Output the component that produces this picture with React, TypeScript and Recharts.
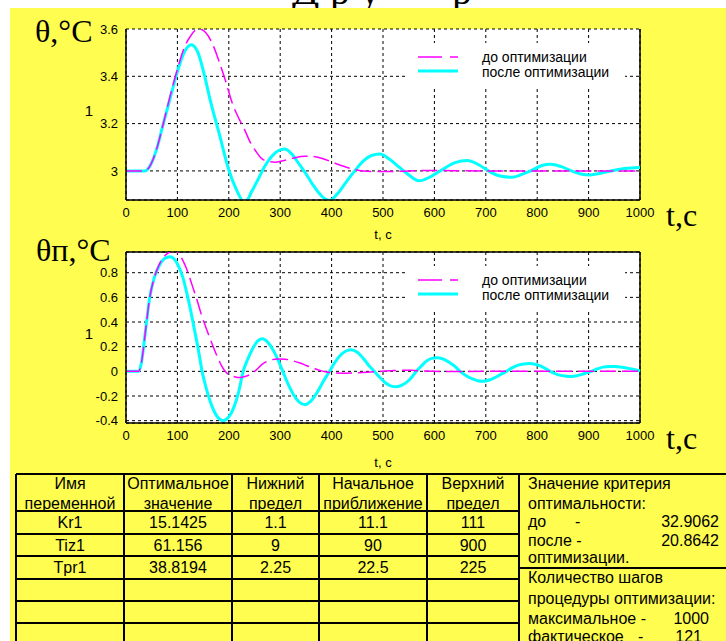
import React from 'react';
import { LineChart, Line, XAxis, YAxis, CartesianGrid, Legend, ReferenceLine } from 'recharts';

// ---------- data ----------
const timeTicks = [0, 100, 200, 300, 400, 500, 600, 700, 800, 900, 1000];
const thetaTicks = [3, 3.2, 3.4, 3.6];
const thetaPTicks = [-0.4, -0.2, 0, 0.2, 0.4, 0.6, 0.8];
const thetaDomain = [2.877, 3.6];
const thetaPDomain = [-0.419, 0.968];
const seriesNames = ['до оптимизации', 'после оптимизации'];

// θ, before optimisation
const thetaBeforeT = [0, 36, 45, 52, 62, 72, 85, 100, 113, 124, 135, 143, 155, 169, 180, 192, 208, 220, 230, 241, 253, 263, 276, 290, 305, 325, 348, 368, 385, 400, 420, 440, 461, 490, 530, 580, 640, 700, 1000];
const thetaBeforeV = [3, 3, 3.015, 3.045, 3.11, 3.195, 3.31, 3.43, 3.52, 3.565, 3.595, 3.6, 3.585, 3.533, 3.47, 3.392, 3.279, 3.22, 3.178, 3.124, 3.082, 3.054, 3.04, 3.037, 3.043, 3.054, 3.062, 3.06, 3.05, 3.038, 3.022, 3.008, 3.0, 2.997, 2.998, 3.002, 3.001, 3.0, 3.0];
// θ, after optimisation
const thetaAfterT = [0, 36, 45, 52, 62, 72, 85, 100, 113, 127, 140, 152, 163, 182, 200, 215, 231, 245, 256, 270, 282, 296, 309, 323, 338, 351, 364, 380, 396, 412, 429, 445, 461, 478, 494, 512, 532, 549, 570, 592, 615, 640, 664, 687, 709, 730, 750, 770, 790, 808, 826, 847, 867, 885, 903, 923, 943, 970, 1000];
const thetaAfterV = [3, 3, 3.015, 3.045, 3.11, 3.195, 3.3, 3.42, 3.5, 3.533, 3.5, 3.41, 3.307, 3.152, 3.004, 2.92, 2.865, 2.915, 2.96, 3.02, 3.058, 3.085, 3.093, 3.07, 3.025, 2.985, 2.94, 2.895, 2.875, 2.905, 2.955, 3.0, 3.04, 3.065, 3.071, 3.05, 3.015, 2.985, 2.958, 2.975, 3.005, 3.035, 3.044, 3.025, 2.995, 2.977, 2.973, 2.985, 3.003, 3.022, 3.028, 3.018, 3.0, 2.987, 2.983, 2.99, 3.0, 3.01, 3.014];

// θп, before optimisation
const thetaPBeforeT = [0, 25, 30, 38, 46, 55, 65, 75, 84, 92, 100, 108, 117, 127, 137, 146, 156, 166, 176, 186, 195, 205, 214, 222, 231, 241, 253, 266, 280, 295, 310, 325, 340, 352, 364, 377, 390, 405, 422, 440, 461, 485, 513, 535, 555, 580, 620, 700, 1000];
const thetaPBeforeV = [0, 0, 0.07, 0.33, 0.594, 0.76, 0.87, 0.935, 0.965, 0.98, 0.965, 0.92, 0.84, 0.72, 0.594, 0.47, 0.35, 0.24, 0.135, 0.045, -0.01, -0.035, -0.047, -0.05, -0.042, -0.027, 0.01, 0.06, 0.09, 0.1, 0.098, 0.085, 0.065, 0.045, 0.027, 0.008, -0.006, -0.013, -0.015, -0.013, -0.009, -0.003, 0.004, 0.009, 0.008, 0.003, -0.001, 0, 0];
// θп, after optimisation
const thetaPAfterT = [0, 25, 30, 38, 46, 55, 65, 75, 85, 93, 101, 110, 118, 126, 134, 141, 148, 157, 167, 178, 189, 200, 210, 219, 228, 237, 247, 256, 265, 276, 288, 296, 305, 315, 326, 337, 348, 360, 372, 384, 396, 406, 417, 428, 438, 450, 461, 472, 483, 494, 505, 516, 526, 538, 551, 565, 575, 585, 595, 605, 617, 630, 640, 650, 662, 673, 684, 695, 707, 718, 729, 740, 752, 763, 774, 785, 796, 806, 815, 825, 836, 846, 857, 867, 877, 887, 896, 905, 917, 928, 940, 952, 965, 980, 1000];
const thetaPAfterV = [0, 0, 0.07, 0.33, 0.594, 0.76, 0.86, 0.915, 0.93, 0.915, 0.864, 0.77, 0.64, 0.49, 0.32, 0.17, 0.0, -0.15, -0.28, -0.37, -0.4, -0.37, -0.29, -0.17, 0.0, 0.1, 0.19, 0.245, 0.265, 0.235, 0.16, 0.09, 0.0, -0.1, -0.19, -0.25, -0.27, -0.24, -0.17, -0.08, 0.0, 0.07, 0.13, 0.165, 0.176, 0.155, 0.108, 0.05, 0.0, -0.05, -0.095, -0.12, -0.125, -0.11, -0.07, 0.0, 0.045, 0.085, 0.105, 0.11, 0.1, 0.07, 0.04, 0.0, -0.035, -0.06, -0.076, -0.08, -0.07, -0.05, -0.025, 0.0, 0.03, 0.05, 0.06, 0.063, 0.058, 0.045, 0.025, 0.0, -0.02, -0.033, -0.04, -0.041, -0.036, -0.025, -0.012, 0.0, 0.02, 0.034, 0.04, 0.04, 0.033, 0.022, 0.005];

// table
const tableHeaders = [['Имя', 'переменной'], ['Оптимальное', 'значение'], ['Нижний', 'предел'], ['Начальное', 'приближение'], ['Верхний', 'предел']];
const varNames = ['Kr1', 'Tiz1', 'Tpr1'];
const optimalValues = ['15.1425', '61.156', '38.8194'];
const lowerLimits = ['1.1', '9', '2.25'];
const initialValues = ['11.1', '90', '22.5'];
const upperLimits = ['111', '900', '225'];
const criterionBefore = '32.9062';
const criterionAfter = '20.8642';
const stepsMax = '1000';
const stepsActual = '121';

// ---------- styles ----------
const MAG = '#ff00ff';
const CYAN = '#00ffff';
const YELLOW = '#fffd50';
const SANS = "'Liberation Sans', Arial, sans-serif";
const SERIF = "'Liberation Serif', 'Times New Roman', serif";

const zip = (ts: number[], vs: number[]) => ts.map((t, i) => ({ t, v: vs[i] }));

const LegendBox = () => (
  <svg width={220} height={44} style={{ display: 'block', background: '#fff' }}>
    <line x1={13} x2={53} y1={14} y2={14} stroke={MAG} strokeWidth={1.5} strokeDasharray="24 8" />
    <text x={77} y={14} dominantBaseline="central" fontFamily={SANS} fontSize={14} fill="#000">{seriesNames[0]}</text>
    <line x1={13} x2={53} y1={28} y2={28} stroke={CYAN} strokeWidth={3} />
    <text x={77} y={29} dominantBaseline="central" fontFamily={SANS} fontSize={14} fill="#000">{seriesNames[1]}</text>
  </svg>
);

type PlotProps = {
  height: number;
  marginBottom: number;
  domain: number[];
  yTicks: number[];
  before: { t: number; v: number }[];
  after: { t: number; v: number }[];
  topSolid: boolean;
};

const Plot = ({ height, marginBottom, domain, yTicks, before, after, topSolid }: PlotProps) => (
  <LineChart width={726} height={height} margin={{ top: 29, right: 86, bottom: marginBottom, left: 0 }}>
    <CartesianGrid fill="#fff" stroke="#000" strokeDasharray="3 3" strokeWidth={1} />
    <XAxis
      type="number"
      dataKey="t"
      domain={[0, 1000]}
      ticks={timeTicks}
      interval={0}
      height={30}
      tickLine={false}
      axisLine={{ stroke: '#000', strokeWidth: 1.5 }}
      tick={{ fill: '#000', fontSize: 13, fontFamily: SANS }}
      allowDuplicatedCategory={false}
    />
    <YAxis
      type="number"
      domain={domain}
      ticks={yTicks}
      interval={0}
      width={126}
      allowDataOverflow
      tickLine={false}
      axisLine={{ stroke: '#000', strokeWidth: 1.5 }}
      tick={{ fill: '#000', fontSize: 13, fontFamily: SANS }}
      tickFormatter={(v: number) => String(v)}
    />
    <ReferenceLine x={1000} stroke="#000" strokeWidth={1.5} />
    {topSolid && <ReferenceLine y={domain[1]} stroke="#000" strokeWidth={1.5} />}
    <Line data={after} dataKey="v" name={seriesNames[1]} type="monotone" stroke={CYAN} strokeWidth={3} dot={false} isAnimationActive={false} />
    <Line data={before} dataKey="v" name={seriesNames[0]} type="monotone" stroke={MAG} strokeWidth={1.5} strokeDasharray="16 6" dot={false} isAnimationActive={false} />
    <Legend
      layout="vertical"
      align="center"
      verticalAlign="middle"
      content={() => <LegendBox />}
      wrapperStyle={{ left: 405, top: 43, width: 220, height: 44 }}
    />
  </LineChart>
);

const colX = [16, 124, 232, 319, 427, 519];
const rowY = [474, 511, 534, 556, 579, 601, 623, 645];

export default function App() {
  const cols = [varNames, optimalValues, lowerLimits, initialValues, upperLimits];
  return (
    <div style={{ position: 'absolute', left: 0, top: 0, width: 726, height: 641, background: '#fff', overflow: 'hidden' }}>
      <svg width={726} height={641} style={{ position: 'absolute', left: 0, top: 0 }}>
        <text y={4} fontFamily={SERIF} fontSize={40} fill="#000">
          <tspan x={292}>Д</tspan>
          <tspan x={330}>р</tspan>
          <tspan x={360}>у</tspan>
          <tspan x={452}>р</tspan>
        </text>
        <rect x={10} y={8} width={716} height={633} fill={YELLOW} />
      </svg>
      <div style={{ position: 'absolute', left: 0, top: 0 }}>
        <Plot height={240} marginBottom={10} domain={thetaDomain} yTicks={thetaTicks}
          before={zip(thetaBeforeT, thetaBeforeV)} after={zip(thetaAfterT, thetaAfterV)} topSolid={false} />
      </div>
      <div style={{ position: 'absolute', left: 0, top: 223 }}>
        <Plot height={237} marginBottom={7} domain={thetaPDomain} yTicks={thetaPTicks}
          before={zip(thetaPBeforeT, thetaPBeforeV)} after={zip(thetaPAfterT, thetaPAfterV)} topSolid={true} />
      </div>
      <svg width={726} height={641} style={{ position: 'absolute', left: 0, top: 0, pointerEvents: 'none' }}>
        {/* axis annotations */}
        <text x={35} y={42} fontFamily={SERIF} fontSize={32} fill="#000">θ,°C</text>
        <text x={36} y={261} fontFamily={SERIF} fontSize={32} fill="#000">θп,°C</text>
        <text x={666} y={226} fontFamily={SERIF} fontSize={32} fill="#000">t,c</text>
        <text x={666} y={449} fontFamily={SERIF} fontSize={32} fill="#000">t,c</text>
        <text x={89} y={110} textAnchor="middle" dominantBaseline="central" fontFamily={SANS} fontSize={15} fill="#000">1</text>
        <text x={89} y={333} textAnchor="middle" dominantBaseline="central" fontFamily={SANS} fontSize={15} fill="#000">1</text>
        <text x={383} y={234} textAnchor="middle" dominantBaseline="central" fontFamily={SANS} fontSize={13} fill="#000">t, c</text>
        <text x={383} y={462} textAnchor="middle" dominantBaseline="central" fontFamily={SANS} fontSize={13} fill="#000">t, c</text>

        {/* table grid */}
        <g stroke="#000" strokeWidth={2}>
          <line x1={colX[0]} x2={726} y1={rowY[0]} y2={rowY[0]} />
          {rowY.slice(1).map((y) => (
            <line key={'h' + y} x1={colX[0]} x2={colX[5]} y1={y} y2={y} />
          ))}
          {colX.map((x) => (
            <line key={'v' + x} x1={x} x2={x} y1={rowY[0]} y2={641} />
          ))}
          <line x1={colX[5]} x2={726} y1={568} y2={568} />
        </g>
        <g fontFamily={SANS} fontSize={16} fill="#000" textAnchor="middle" dominantBaseline="central">
          {tableHeaders.map((h, i) => {
            const cx = (colX[i] + colX[i + 1]) / 2;
            return (
              <g key={'hd' + i}>
                <text x={cx} y={483}>{h[0]}</text>
                <text x={cx} y={503}>{h[1]}</text>
              </g>
            );
          })}
          {cols.map((col, i) =>
            col.map((val, r) => (
              <text key={'c' + i + r} x={(colX[i] + colX[i + 1]) / 2} y={(rowY[r + 1] + rowY[r + 2]) / 2}>{val}</text>
            ))
          )}
        </g>
        <g fontFamily={SANS} fontSize={16} fill="#000" dominantBaseline="central">
          <text x={528} y={483}>Значение критерия</text>
          <text x={528} y={503}>оптимальности:</text>
          <text x={528} y={521}>до</text>
          <text x={575} y={521}>-</text>
          <text x={719} y={521} textAnchor="end">{criterionBefore}</text>
          <text x={528} y={540}>после -</text>
          <text x={719} y={540} textAnchor="end">{criterionAfter}</text>
          <text x={528} y={557}>оптимизации.</text>
          <text x={528} y={577}>Количество шагов</text>
          <text x={528} y={598}>процедуры оптимизации:</text>
          <text x={528} y={618}>максимальное -</text>
          <text x={709} y={618} textAnchor="end">{stepsMax}</text>
          <text x={528} y={636}>фактическое</text>
          <text x={638} y={636}>-</text>
          <text x={702} y={636} textAnchor="end">{stepsActual}</text>
        </g>
      </svg>
    </div>
  );
}
